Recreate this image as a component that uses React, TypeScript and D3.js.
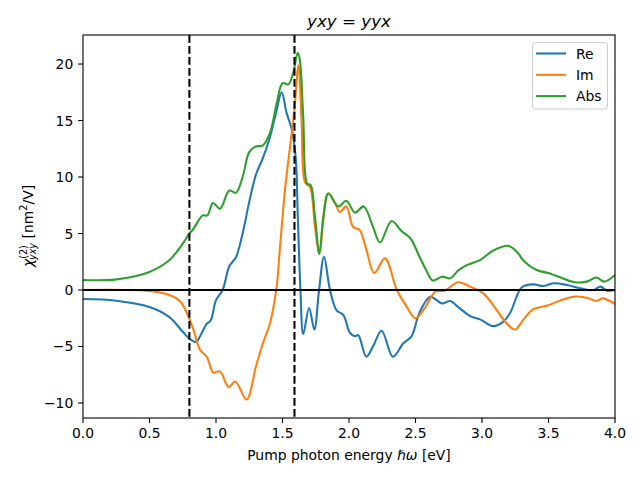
import React from "react";
import * as d3 from "d3";

const reData: [number, number][] = [
  [0, -0.8], [0.25, -0.95], [0.5, -1.5], [0.65, -2.4], [0.75, -3.7], [0.8, -4.3], [0.85, -4.6],
  [0.88, -4.1], [0.93, -3.0], [0.96, -2.7], [1.0, -0.9], [1.05, 0.0], [1.1, 2.1], [1.15, 2.9],
  [1.2, 5.0], [1.25, 7.8], [1.3, 10.2], [1.35, 11.6], [1.4, 13.3], [1.45, 15.6], [1.494, 17.5],
  [1.53, 15.7], [1.57, 14.2], [1.6, 11.6], [1.615, 6.5], [1.635, 0], [1.656, -3.9], [1.7, -1.6],
  [1.739, -3.5], [1.775, 0], [1.812, 2.95], [1.857, 0], [1.907, -1.8], [1.957, -2.2], [2.007, -3.8],
  [2.045, -4.1], [2.07, -4.0], [2.13, -5.9], [2.18, -5.0], [2.245, -3.6], [2.33, -5.9], [2.41, -4.7],
  [2.47, -4.1], [2.53, -2.0], [2.61, -0.6], [2.66, -0.9], [2.7, -1.2], [2.76, -0.97], [2.83, -1.6],
  [2.91, -2.3], [2.985, -2.6], [3.085, -3.2], [3.16, -2.8], [3.21, -2.06], [3.3, 0.24], [3.386, 0.5],
  [3.46, 0.35], [3.536, 0.59], [3.64, 0.44], [3.74, 0.15], [3.84, 0], [3.89, 0.3], [3.94, -0.06], [4.0, 0],
];

const imData: [number, number][] = [
  [0, 0], [0.5, -0.09], [0.65, -0.44], [0.73, -1.0], [0.78, -2.0], [0.83, -3.5], [0.88, -5.3],
  [0.93, -5.9], [0.98, -7.3], [1.03, -7.2], [1.095, -8.6], [1.145, -8.1], [1.23, -9.7], [1.3, -6.8],
  [1.35, -4.8], [1.406, -2.95], [1.456, 0.3], [1.48, 3.6], [1.52, 9.0], [1.56, 13.0], [1.59, 16.0],
  [1.62, 19.9], [1.644, 14.8], [1.67, 9.5], [1.707, 9.1], [1.744, 5.6], [1.777, 3.2], [1.807, 6.2],
  [1.844, 8.55], [1.895, 7.7], [1.93, 6.9], [1.98, 7.4], [2.03, 5.6], [2.08, 5.3], [2.13, 3.6],
  [2.19, 1.5], [2.27, 2.8], [2.36, 0], [2.43, -1.4], [2.5, -2.5], [2.57, -1.6], [2.65, -0.15],
  [2.72, -0.06], [2.82, 0.68], [2.91, 0.3], [3.01, -0.3], [3.11, -1.77], [3.185, -2.95], [3.25, -3.5],
  [3.31, -2.65], [3.386, -1.7], [3.486, -1.4], [3.586, -0.94], [3.687, -0.59], [3.787, -0.68],
  [3.86, -0.97], [3.91, -0.74], [4.0, -1.24],
];

const absData: [number, number][] = [
  [0, 0.88], [0.25, 0.94], [0.5, 1.6], [0.65, 2.65], [0.75, 4.1], [0.8, 5.0], [0.83, 5.4], [0.9, 6.6],
  [0.935, 6.6], [0.977, 7.7], [1.03, 7.2], [1.1, 8.8], [1.15, 8.6], [1.2, 10.0], [1.25, 12.2],
  [1.3, 12.7], [1.353, 12.8], [1.406, 13.9], [1.456, 16.5], [1.5, 18.3], [1.544, 18.2], [1.58, 19.2],
  [1.614, 21.0], [1.63, 20.4], [1.656, 15.3], [1.686, 9.4], [1.711, 9.3], [1.744, 6.5], [1.777, 3.2],
  [1.807, 6.5], [1.844, 8.55], [1.92, 7.4], [1.98, 7.9], [2.045, 6.85], [2.11, 7.4], [2.18, 5.6],
  [2.233, 4.2], [2.32, 6.1], [2.396, 5.2], [2.46, 4.6], [2.53, 2.95], [2.58, 1.77], [2.63, 0.83],
  [2.7, 1.18], [2.76, 1.03], [2.82, 1.71], [2.885, 2.2], [2.985, 2.65], [3.085, 3.5], [3.2, 3.9],
  [3.26, 3.4], [3.32, 2.5], [3.41, 1.77], [3.51, 1.47], [3.586, 1.12], [3.7, 0.68], [3.787, 0.74],
  [3.86, 1.1], [3.92, 0.74], [4.0, 1.33],
];

const xTicks = [0, 0.5, 1.0, 1.5, 2.0, 2.5, 3.0, 3.5, 4.0];
const yTicks = [-10, -5, 0, 5, 10, 15, 20];
const vLines = [0.8, 1.59];
const seriesNames = ["Re", "Im", "Abs"];
const seriesColors = ["#1f77b4", "#ff7f0e", "#2ca02c"];

const W = 640, H = 480;
const L = 83, R = 615, T = 35, B = 418;
const FONT = "DejaVu Sans, sans-serif";

export default function App() {
  const x = d3.scaleLinear().domain([0, 4]).range([L, R]);
  const y = d3.scaleLinear().domain([-11.33, 22.57]).range([B, T]);
  const line = d3
    .line<[number, number]>()
    .x((d) => x(d[0]))
    .y((d) => y(d[1]))
    .curve(d3.curveCatmullRom.alpha(0.5));
  const all = [reData, imData, absData];
  const fmtX = (v: number) => v.toFixed(1);
  const fmtY = (v: number) => (v < 0 ? "\u2212" + Math.abs(v) : String(v));
  return (
    <svg width={W} height={H} style={{ position: "absolute", left: 0, top: 0 }} fontFamily={FONT}>
      <rect x={0} y={0} width={W} height={H} fill="white" />
      <defs>
        <clipPath id="plotclip">
          <rect x={L} y={T} width={R - L} height={B - T} />
        </clipPath>
      </defs>
      <g clipPath="url(#plotclip)">
        {all.map((d, i) => (
          <path key={i} d={line(d) || ""} fill="none" stroke={seriesColors[i]} strokeWidth={2.08} strokeLinejoin="round" />
        ))}
        <line x1={L} x2={R} y1={y(0)} y2={y(0)} stroke="black" strokeWidth={2.08} />
        {vLines.map((v) => (
          <line key={v} x1={x(v)} x2={x(v)} y1={T} y2={B} stroke="black" strokeWidth={2.08} strokeDasharray="7.7,3.3" />
        ))}
      </g>
      <rect x={L} y={T} width={R - L} height={B - T} fill="none" stroke="black" strokeWidth={1.1} />
      {xTicks.map((t) => (
        <g key={t}>
          <line x1={x(t)} x2={x(t)} y1={B} y2={B + 4.9} stroke="black" strokeWidth={1.1} />
          <text x={x(t)} y={438} fontSize={13.9} textAnchor="middle" fill="black">{fmtX(t)}</text>
        </g>
      ))}
      {yTicks.map((t) => (
        <g key={t}>
          <line x1={L - 4.9} x2={L} y1={y(t)} y2={y(t)} stroke="black" strokeWidth={1.1} />
          <text x={73.3} y={y(t) + 5} fontSize={13.9} textAnchor="end" fill="black">{fmtY(t)}</text>
        </g>
      ))}
      <text x={(L + R) / 2} y={460} fontSize={13.9} textAnchor="middle" fill="black">
        Pump photon energy <tspan fontStyle="italic">ℏω</tspan> [eV]
      </text>
      <text transform={`translate(33,226) rotate(-90)`} fontSize={13.9} textAnchor="middle" fill="black">
        <tspan fontStyle="italic">χ</tspan>
        <tspan fontSize={9.7} dy={-6}>(2)</tspan>
        <tspan fontSize={9.7} fontStyle="italic" dx={-15} dy={9}>yxy</tspan>
        <tspan dy={-3}> [nm</tspan>
        <tspan fontSize={9.7} dy={-6}>2</tspan>
        <tspan dy={6}>/V]</tspan>
      </text>
      <text x={(L + R) / 2} y={27} fontSize={16.7} textAnchor="middle" fill="black">
        <tspan fontStyle="italic">yxy</tspan>
        <tspan> = </tspan>
        <tspan fontStyle="italic">yyx</tspan>
      </text>
      <rect x={532.5} y={42.5} width={75} height={66.5} rx={3} fill="white" fillOpacity={0.8} stroke="#cccccc" strokeWidth={1} />
      {seriesNames.map((n, i) => (
        <g key={n}>
          <line x1={536} x2={566} y1={53.5 + i * 21.3} y2={53.5 + i * 21.3} stroke={seriesColors[i]} strokeWidth={2.08} />
          <text x={576} y={53.5 + i * 21.3 + 5} fontSize={13.9} fill="black">{n}</text>
        </g>
      ))}
    </svg>
  );
}
